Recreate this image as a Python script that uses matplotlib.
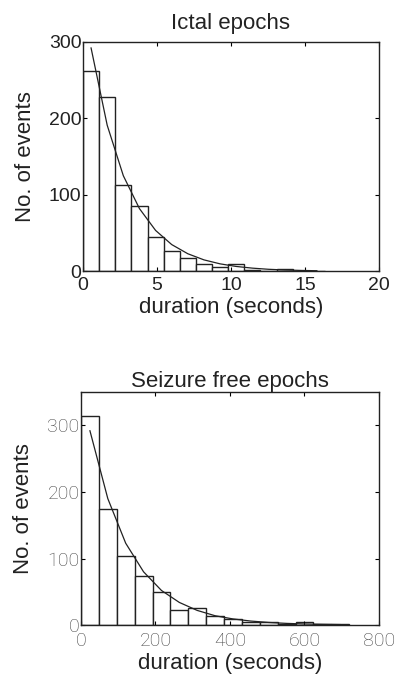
#!/usr/bin/env python3
"""
Histograms of epoch durations (ictal / seizure free) with exponential fits.
"""
import numpy as np
import matplotlib
matplotlib.use("Agg")
import matplotlib.pyplot as plt

# --- data -------------------------------------------------------------------
ictal_width = 1.09
ictal_counts = [262, 228, 113, 86, 45, 27, 17, 9, 6, 9, 2, 1, 3, 1, 1]
ictal_fit = [292, 191, 125, 82, 53.5, 35, 23, 15, 9.8, 6.4, 4.2, 2.7, 1.8, 1.2, 0.8]

free_width = 48.0
free_counts = [314, 174, 104, 74, 49, 23, 25, 13, 9, 5, 4, 2, 5, 1.5, 1]
free_fit = [292, 190, 123, 80, 52, 34, 22, 14, 9.2, 6, 3.9, 2.5, 1.6, 1.1, 0.7]

plt.rcParams['font.family'] = ['Liberation Sans', 'DejaVu Sans']


def draw_hist(ax, width, counts, fit):
    n = len(counts)
    edges = np.arange(n) * width
    centers = edges + width / 2
    ax.bar(edges, counts, width=width, align='edge', facecolor='white',
           edgecolor='#222222', linewidth=1.0)
    ax.plot(centers, fit, color='#222222', linewidth=0.9)


def style_axes(ax, tick_font, xpad):
    ax.tick_params(direction='in', length=3, width=0.8, top=True, right=True,
                   labelsize=14)
    ax.tick_params(axis='x', pad=xpad)
    ax.tick_params(axis='y', pad=1)
    for lab in ax.get_xticklabels() + ax.get_yticklabels():
        lab.set(**tick_font)
    for sp in ax.spines.values():
        sp.set_linewidth(1.0)
        sp.set_color('#222222')


fig = plt.figure(figsize=(4.01, 6.75), dpi=100)

# top panel
ax1 = fig.add_axes([0.207, 0.598, 0.738, 0.340])
draw_hist(ax1, ictal_width, ictal_counts, ictal_fit)
ax1.set_xlim(0, 20)
ax1.set_ylim(0, 300)
ax1.set_xticks([0, 5, 10, 15, 20])
ax1.set_yticks([0, 100, 200, 300])
style_axes(ax1, dict(color='#222222'), xpad=4)
ax1.set_title("Ictal epochs", fontsize=16, pad=9, color='#222222')
ax1.set_xlabel("duration (seconds)", fontsize=16, labelpad=2, color='#222222')
ax1.set_ylabel("No. of events", fontsize=16, labelpad=9, color='#222222')

# bottom panel
ax2 = fig.add_axes([0.202, 0.074, 0.743, 0.345])
draw_hist(ax2, free_width, free_counts, free_fit)
ax2.set_xlim(0, 800)
ax2.set_ylim(0, 350)
ax2.set_xticks([0, 200, 400, 600, 800])
ax2.set_yticks([0, 100, 200, 300])
style_axes(ax2, dict(color='#444444', family=['Roboto', 'DejaVu Sans'],
                     fontweight='light'), xpad=5)
ax2.set_title("Seizure free epochs", fontsize=16, pad=4, color='#222222')
ax2.set_xlabel("duration (seconds)", fontsize=16, labelpad=2, color='#222222')
ax2.set_ylabel("No. of events", fontsize=16, labelpad=9.5, color='#222222')

fig.savefig("out.png", dpi=100)
